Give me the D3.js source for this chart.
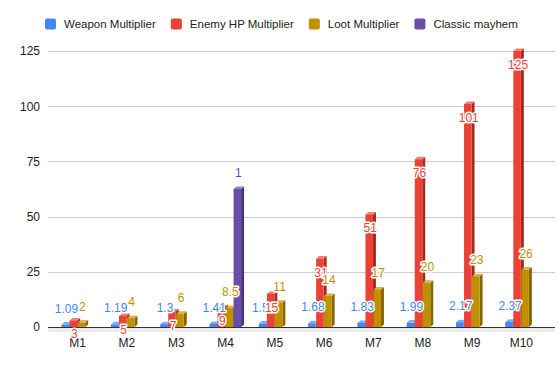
<!DOCTYPE html>
<html>
<head>
<meta charset="utf-8">
<script src="https://cdn.jsdelivr.net/npm/d3@7"></script>
<style>
  html, body { margin: 0; padding: 0; background: #fff; }
  svg { display: block; font-family: Arial, "Liberation Sans", sans-serif; }
</style>
</head>
<body>
<svg id="chart" width="559" height="369"></svg>
<script>
// ---- data ----
const categories = ["M1","M2","M3","M4","M5","M6","M7","M8","M9","M10"];
const seriesNames = ["Weapon Multiplier","Enemy HP Multiplier","Loot Multiplier","Classic mayhem"];
const weaponValues = [1.09,1.19,1.3,1.41,1.56,1.68,1.83,1.99,2.17,2.37];
const enemyHpValues = [3,5,7,9,15,31,51,76,101,125];
const lootValues = [2,4,6,8.5,11,14,17,20,23,26];
const classicValues = [null,null,null,1,null,null,null,null,null,null];
const yTicks = [0,25,50,75,100,125];
const secondaryDomain = [0,2]; // Classic mayhem plotted on a hidden secondary axis

const colors = {
  "Weapon Multiplier":   {front:"#4285f4", side:"#2c5fb5", top:"#7eaaf7"},
  "Enemy HP Multiplier": {front:"#ea4335", side:"#a8291f", top:"#f07d72"},
  "Loot Multiplier":     {front:"#bf9000", side:"#876600", top:"#d6b34a"},
  "Classic mayhem":      {front:"#674ea7", side:"#47357a", top:"#9580c6"}
};
const seriesData = [
  {name:"Weapon Multiplier", values:weaponValues, axis:"y", label:"above"},
  {name:"Enemy HP Multiplier", values:enemyHpValues, axis:"y", label:"inside"},
  {name:"Loot Multiplier", values:lootValues, axis:"y", label:"above"},
  {name:"Classic mayhem", values:classicValues, axis:"y2", label:"above"}
];

const svg = d3.select("#chart");
const plotTop = 51, plotBottom = 327;

const y = d3.scaleLinear().domain([0,125]).range([plotBottom, plotTop]);
const y2 = d3.scaleLinear().domain(secondaryDomain).range([plotBottom, plotTop]);
const x = d3.scaleBand().domain(categories).range([53, 546]).paddingInner(0.35).paddingOuter(0.175);
const x1 = d3.scaleBand().domain(seriesNames).range([0, x.bandwidth()]);

const dx = 3, dy = 2.5;

// gridlines
const grid = svg.append("g");
grid.selectAll("line").data(yTicks.filter(t => t !== 0)).join("line")
  .attr("x1", 48).attr("x2", 555)
  .attr("y1", d => Math.round(y(d)) + 0.5).attr("y2", d => Math.round(y(d)) + 0.5)
  .attr("stroke", "#cccccc").attr("stroke-width", 1);

// floor shading
svg.append("rect").attr("x", 48).attr("y", Math.round(y(0)) + 1).attr("width", 507).attr("height", 4)
  .attr("fill", "#ececec");

// y axis labels
const yAxis = d3.axisLeft(y).tickValues(yTicks).tickSize(0).tickPadding(0);
const yg = svg.append("g").attr("transform", "translate(40,0)").call(yAxis);
yg.select(".domain").remove();
yg.selectAll("text").attr("font-size", 12).attr("fill", "#222").attr("font-family", "Arial, 'Liberation Sans', sans-serif");

// x axis labels
const xAxis = d3.axisBottom(x).tickSize(0).tickPadding(0);
const xg = svg.append("g").attr("transform", `translate(0,${plotBottom + 11})`).call(xAxis);
xg.select(".domain").remove();
xg.selectAll("text").attr("font-size", 12).attr("fill", "#222").attr("font-family", "Arial, 'Liberation Sans', sans-serif");

// bars
const bars = [];
categories.forEach((c, i) => {
  seriesData.forEach(s => {
    const v = s.values[i];
    if (v == null) return;
    const sc = s.axis === "y2" ? y2 : y;
    bars.push({cat:c, series:s.name, value:v, scale:sc, labelPos:s.label});
  });
});

const barW = x1.bandwidth() - 0.5;
const bg = svg.append("g");
bars.forEach(b => {
  const bx = x(b.cat) + x1(b.series);
  const by = b.scale(b.value);
  const bh = b.scale(0) - by;
  const col = colors[b.series];
  const g = bg.append("g");
  g.append("polygon")
    .attr("points", [[bx+barW, by],[bx+barW+dx, by-dy],[bx+barW+dx, by+bh-dy],[bx+barW, by+bh]].map(p=>p.join(",")).join(" "))
    .attr("fill", col.side);
  g.append("polygon")
    .attr("points", [[bx, by],[bx+dx, by-dy],[bx+barW+dx, by-dy],[bx+barW, by]].map(p=>p.join(",")).join(" "))
    .attr("fill", col.top);
  g.append("rect").attr("x", bx).attr("y", by).attr("width", barW).attr("height", bh).attr("fill", col.front);
});

// baseline
svg.append("line").attr("x1", 48).attr("x2", 555)
  .attr("y1", Math.round(y(0)) + 0.5).attr("y2", Math.round(y(0)) + 0.5)
  .attr("stroke", "#333").attr("stroke-width", 1);

// data labels (drawn by series order)
const lg = svg.append("g");
seriesNames.forEach(sn => {
  bars.filter(b => b.series === sn).forEach(b => {
    const bx = x(b.cat) + x1(b.series) + barW / 2 + 1;
    const by = b.scale(b.value);
    const cy = b.labelPos === "inside" ? by + 14 : by - 16;
    lg.append("text")
      .attr("x", bx).attr("y", cy)
      .attr("text-anchor", "middle").attr("dominant-baseline", "central")
      .attr("font-size", 12)
      .attr("fill", colors[sn].front)
      .attr("stroke", "#fff").attr("stroke-width", 3).attr("stroke-linejoin", "round")
      .attr("paint-order", "stroke")
      .text(b.value);
  });
});

// legend
const legend = svg.append("g");
let lx = 45;
seriesNames.forEach(sn => {
  legend.append("rect").attr("x", lx).attr("y", 18.5).attr("width", 11).attr("height", 11).attr("rx", 2)
    .attr("fill", colors[sn].front);
  const t = legend.append("text").attr("x", lx + 19).attr("y", 24)
    .attr("dominant-baseline", "central").attr("font-size", 11.5).attr("fill", "#222").text(sn);
  lx += 19 + t.node().getComputedTextLength() + 15;
});
</script>
</body>
</html>
